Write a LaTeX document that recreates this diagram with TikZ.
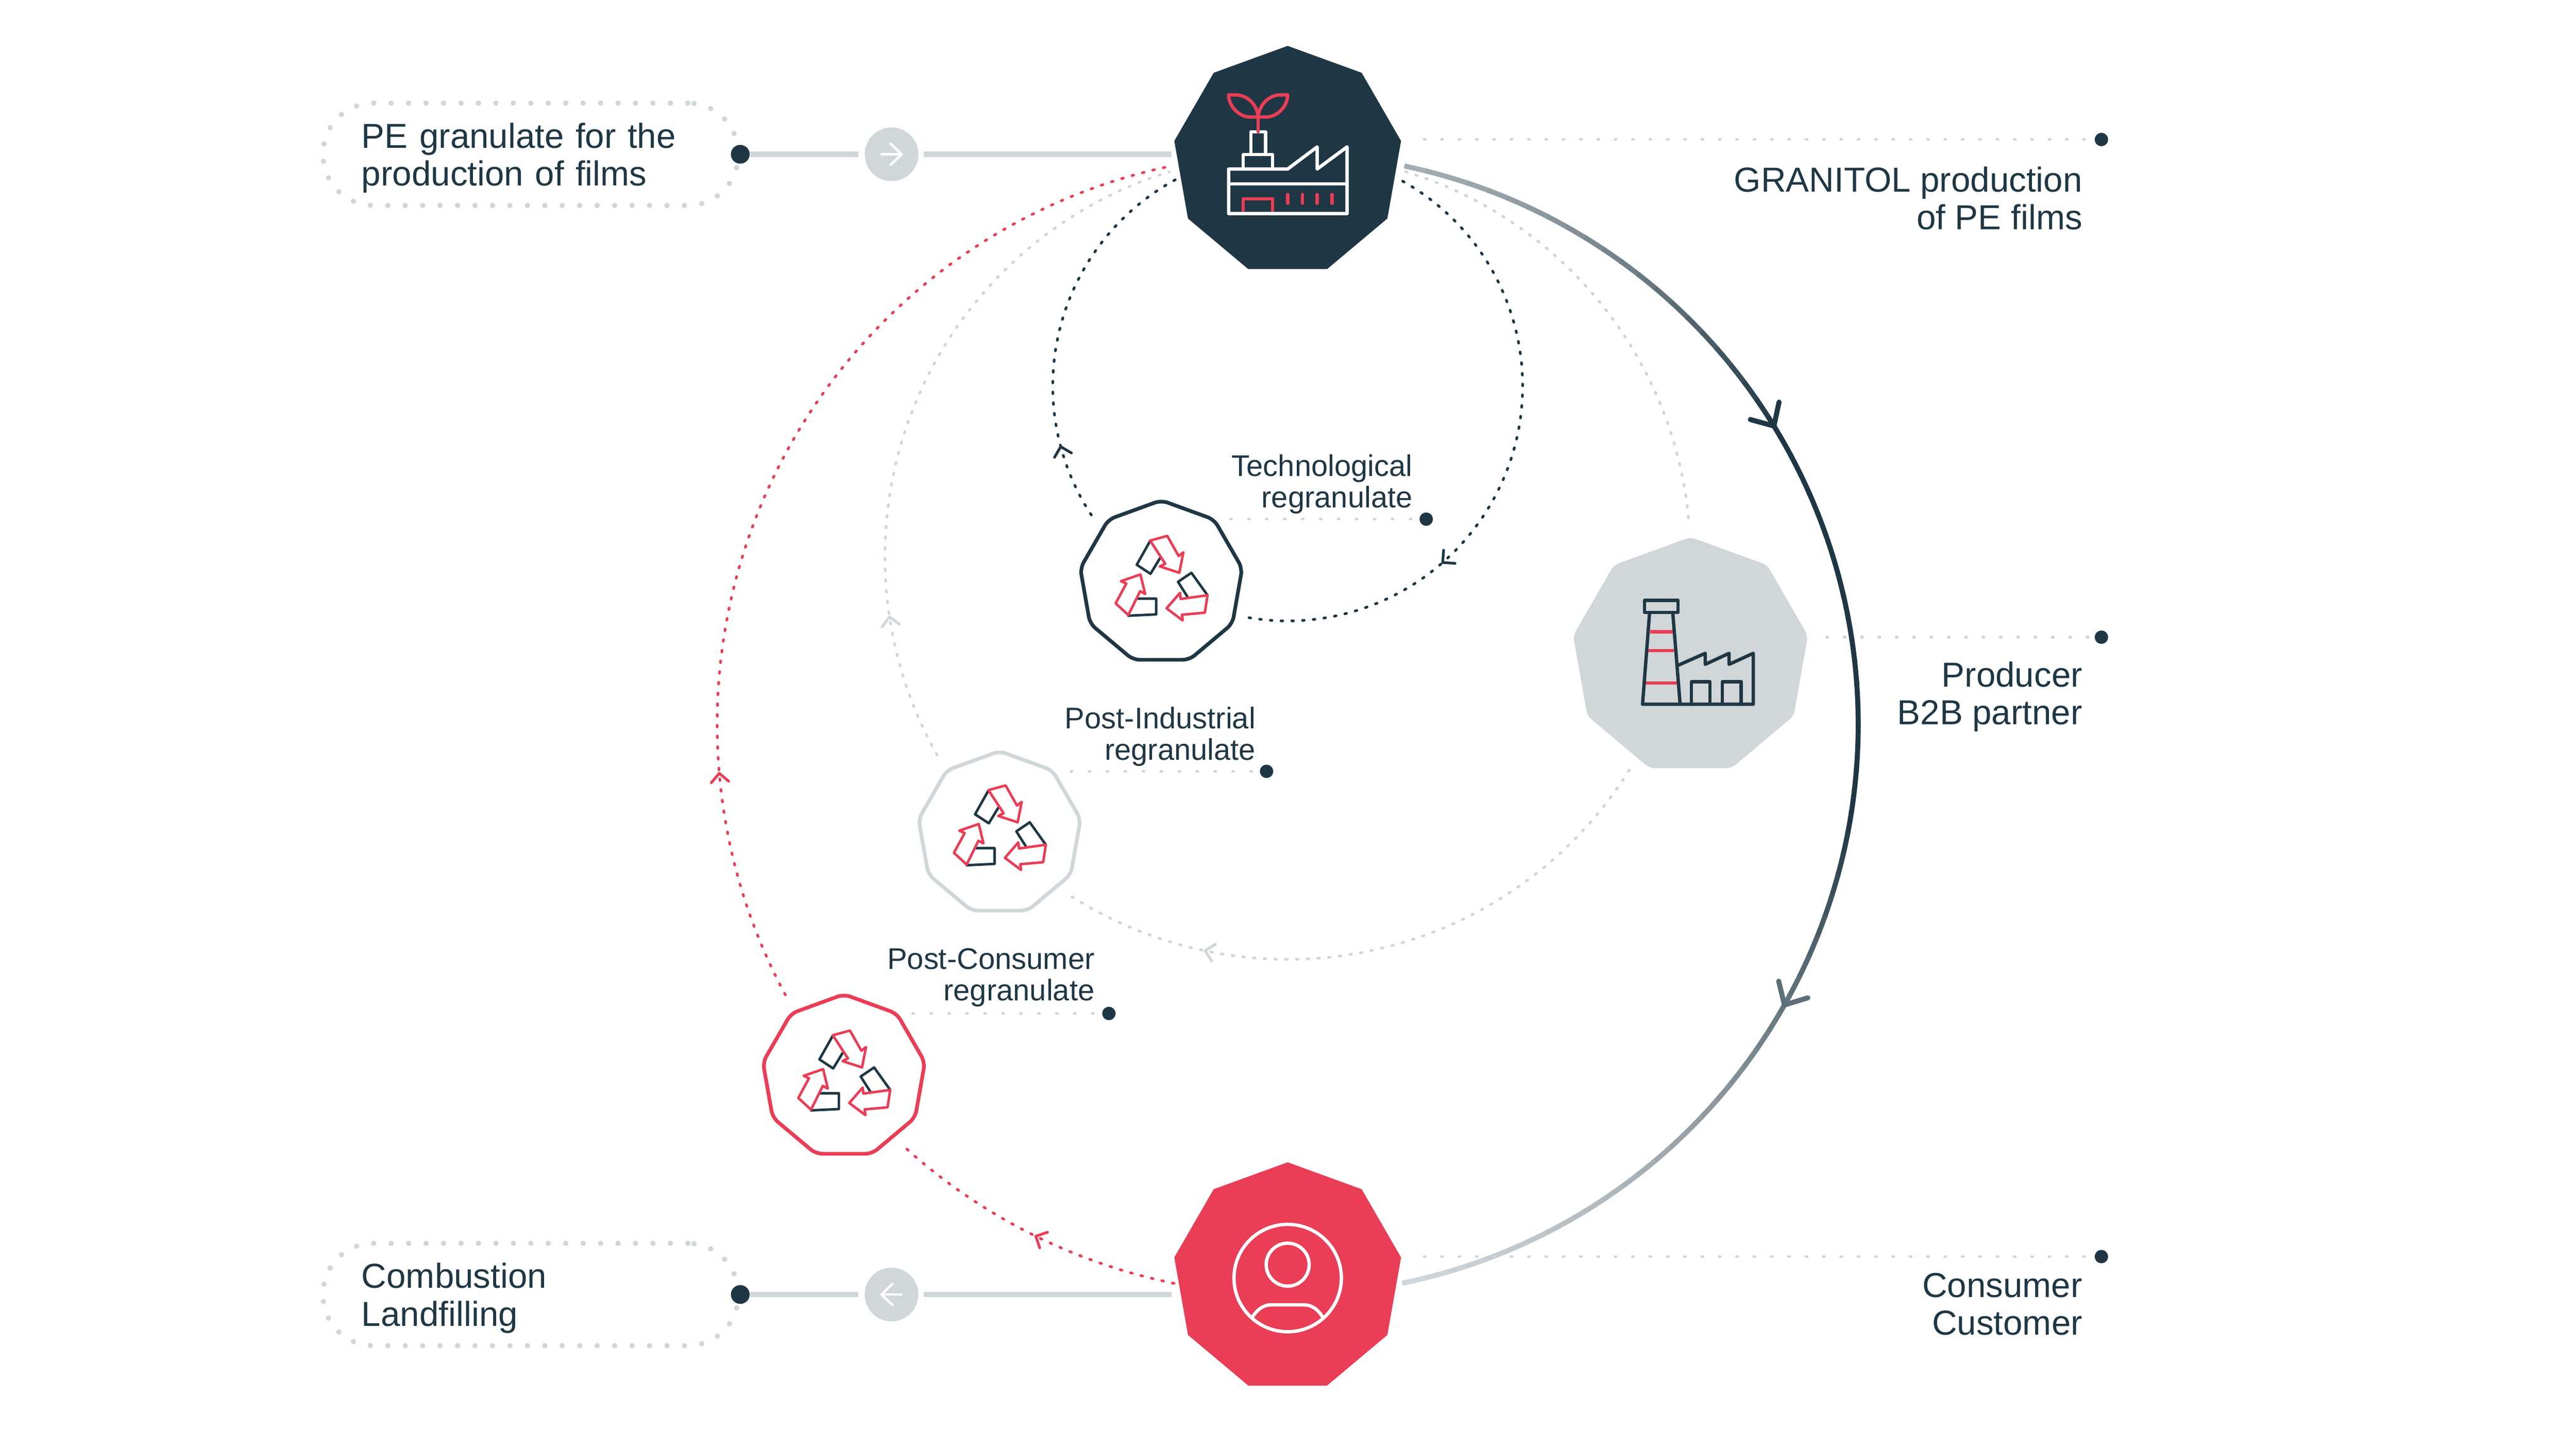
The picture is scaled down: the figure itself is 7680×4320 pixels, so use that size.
\documentclass[tikz,border=0pt]{standalone}
\usepackage{fontspec}
\setmainfont{Liberation Sans}
\usetikzlibrary{positioning,shapes,calc}
\usetikzlibrary{arrows.meta}
\usetikzlibrary{decorations.markings}
\definecolor{inkdark}{HTML}{1F3744}
\definecolor{inkred}{HTML}{EA3D56}
\definecolor{inkgrey}{HTML}{D1D6D9}
\newcommand{\biglabel}{\fontsize{29.4}{32.1}\selectfont}
\newcommand{\smalllabel}{\fontsize{25.3}{26.5}\selectfont}
\tikzset{
  nona/.style={regular polygon, regular polygon sides=9, inner sep=0pt, outer sep=0pt},
  hubnode/.style={nona, minimum size=#1},
  ringnode/.style={nona, draw=#1, fill=white, line width=0.11cm, rounded corners=0.2cm, minimum size=4.9cm},
  pindot/.style={circle, fill=inkdark, inner sep=0pt, minimum size=0.4cm},
  pillbox/.style={draw=inkgrey, rounded corners=1.5cm, line width=0.16cm, line cap=round,
    dash pattern=on 0pt off 0.52cm, minimum width=12.37cm, minimum height=3.05cm,
    text width=10.07cm, align=left, inner xsep=1.15cm, inner ysep=0pt, text=inkdark, font=\biglabel,
    execute at begin node={\rule{0pt}{27.5pt}}},
  rightlabel/.style={inner sep=0pt, align=right, text=inkdark, font=#1},
  leader/.style={draw=inkgrey, line width=0.08cm, line cap=round, dash pattern=on 0.035cm off 0.482cm},
  dotarc/.style={draw=#1, line width=0.08cm, line cap=round, dash pattern=on 0.05cm off 0.27cm},
  feedline/.style={draw=inkgrey, line width=0.16cm, shorten >=0.18cm},
  wayarrow/.style={draw=white, line width=0.07cm, line cap=round,
    -{Straight Barb[length=0.34cm,width=0.64cm,round]}},
  smalltip/.style 2 args={postaction={decorate},decoration={markings,
    mark=at position #1 with {\arrow[#2]{Straight Barb[length=0.26cm,width=0.52cm,round,line width=0.08cm]}}}},
  bigtip/.style 2 args={postaction={decorate},decoration={markings,
    mark=at position #1 with {\arrow[#2]{Straight Barb[length=0.53cm,width=1cm,round,line width=0.15cm]}}}},
  iconline/.style={draw=#1, line width=0.1cm, line join=round, line cap=round},
  recycle/.pic={
    \draw[iconline=inkdark, line width=0.075cm] (-4,-72) -- (-32,-26) -- (-73,-53) -- (-33,-124);
    \draw[iconline=inkdark, line width=0.075cm] (78,42) -- (50,-2) -- (90,-29) -- (138,38);
    \draw[iconline=inkdark, line width=0.075cm] (-71,48) -- (-15,48) -- (-15,95) -- (-98,99);
    \draw[iconline=inkred, line width=0.075cm] (-33,-125) -- (18,-139) -- (52,-79) -- (66,-90) -- (54,-29) -- (-4,-48) -- (12,-56) -- cycle;
    \draw[iconline=inkred, line width=0.075cm] (138,38) -- (58,49) -- (56,31) -- (16,77) -- (64,113) -- (62,96) -- (130,90) -- cycle;
    \draw[iconline=inkred, line width=0.075cm] (-98,97) -- (-136,62) -- (-104,3) -- (-120,-4) -- (-62,-24) -- (-48,34) -- (-63,26) -- cycle;
  }
}
\begin{document}
\begin{tikzpicture}[x=0.01cm, y=-0.01cm]
  \useasboundingbox (0,0) rectangle (7680,4320);

  % circle centres
  \coordinate (loopc) at (3839,1151);
  \coordinate (midc) at (3839,1660);
  \coordinate (bigc) at (3839,2160);

  % dotted return loops
  \draw[dotarc=inkdark, smalltip={0.685}{inkdark}] ($(loopc)+(60.7:7cm)$) arc[start angle=60.7, end angle=-99.5, radius=7cm];
  \draw[dotarc=inkdark, smalltip={0.197}{inkdark}] ($(loopc)+(213.3:7cm)$) arc[start angle=213.3, end angle=118.6, radius=7cm];
  \draw[dotarc=inkgrey] ($(midc)+(73:12cm)$) arc[start angle=73, end angle=4.6, radius=12cm];
  \draw[dotarc=inkgrey, smalltip={0.772}{inkgrey}] ($(midc)+(-32:12cm)$) arc[start angle=-32, end angle=-122.7, radius=12cm];
  \draw[dotarc=inkgrey, smalltip={0.206}{inkgrey}] ($(midc)+(209.5:12cm)$) arc[start angle=209.5, end angle=107.1, radius=12cm];
  \draw[dotarc=inkred, smalltip={0.48}{inkred}] ($(bigc)+(258.5:17cm)$) arc[start angle=258.5, end angle=227.6, radius=17cm];
  \draw[dotarc=inkred, smalltip={0.221}{inkred}] ($(bigc)+(208.3:17cm)$) arc[start angle=208.3, end angle=101.9, radius=17cm];

  % main loop, colour fades with height
  \foreach \i in {0,...,71} {
    \pgfmathsetmacro{\a}{78.2-\i*2.172}
    \pgfmathsetmacro{\yy}{2160-1700*sin(\a-1.1)}
    \pgfmathsetmacro{\p}{\yy<1250 ? 25+0.0993*(\yy-495) : (\yy>2450 ? max(0,0.0725*(3830-\yy)) : 100)}
    \draw[draw=inkdark!\p!inkgrey, line width=0.15cm] ($(bigc)+(\a:17cm)$) arc[start angle=\a, delta angle=-2.4, radius=17cm];
  }
  \path[bigtip={0.3}{inkdark}] ($(bigc)+(78.2:17cm)$) arc[start angle=78.2, end angle=-78.2, radius=17cm];
  \path[bigtip={0.69}{inkdark!65!inkgrey}] ($(bigc)+(78.2:17cm)$) arc[start angle=78.2, end angle=-78.2, radius=17cm];

  % stations
  \node[hubnode=6.86cm, fill=inkdark] (plant) at (3839,480) {};
  \node[hubnode=7.1cm, fill=inkgrey, rounded corners=0.15cm] (partner) at (5040,1957) {};
  \node[hubnode=6.86cm, fill=inkred] (customer) at (3839,3809) {};
  \node[ringnode=inkdark] (techre) at (3462,1737) {};
  \node[ringnode=inkgrey] (indre) at (2980,2485) {};
  \node[ringnode=inkred] (conre) at (2516,3210) {};
  \path (techre) pic {recycle};
  \path ($(indre)+(0,-4)$) pic {recycle};
  \path ($(conre)+(0,2)$) pic {recycle};

  % plant icon
  \begin{scope}[shift={(plant)}]
    \draw[iconline=white] (-176,157) -- (-176,24) -- (0,24) -- (88,-42) -- (88,24) -- (177,-42) -- (177,157) -- cycle;
    \draw[iconline=white] (-176,68) -- (177,68);
    \draw[iconline=white] (-133,24) -- (-133,-19) -- (-45,-19) -- (-45,24);
    \draw[iconline=white] (-110,-19) -- (-110,-87) -- (-66,-87) -- (-66,-19);
    \draw[iconline=inkred] (-88,-131) -- (-88,-87);
    \draw[iconline=inkred] (-176,-197) -- (-155,-197) .. controls (-118,-197) and (-90,-165) .. (-88,-131) -- (-111,-131) .. controls (-147,-131) and (-176,-165) .. cycle;
    \draw[iconline=inkred] (0,-197) -- (-21,-197) .. controls (-58,-197) and (-86,-165) .. (-88,-131) -- (-65,-131) .. controls (-29,-131) and (0,-165) .. cycle;
    \draw[iconline=inkred, line cap=butt] (-133,152) -- (-133,113) -- (-45,113) -- (-45,152);
    \foreach \x in {0,44,88,132}
      \draw[iconline=inkred] (\x,100) -- (\x,126);
  \end{scope}

  % partner icon
  \begin{scope}[shift={(partner)}]
    \draw[inkred, line width=0.1cm] (-121,-73) -- (-53,-73) (-126,-17) -- (-49,-17) (-134,80) -- (-40,80);
    \draw[iconline=inkdark] (-137,-167) rectangle (-37,-131);
    \draw[iconline=inkdark] (-122,-131) -- (-143,143) -- (187,143) -- (187,-9) -- (115,24) -- (115,-9) -- (44,24) -- (44,-9) -- (-35,26);
    \draw[iconline=inkdark] (-53,-131) -- (-31,143);
    \draw[iconline=inkdark] (3,143) -- (3,76) -- (58,76) -- (58,143);
    \draw[iconline=inkdark] (95,143) -- (95,76) -- (151,76) -- (151,143);
  \end{scope}

  % customer icon
  \begin{scope}[shift={(customer)}]
    \draw[iconline=white] (0,2) circle (1.6cm);
    \draw[iconline=white] (0,-38) circle (0.64cm);
    \draw[iconline=white] (-105,118) .. controls (-90,95) and (-72,82) .. (-50,82) -- (49,82) .. controls (72,82) and (90,95) .. (104,118);
  \end{scope}

  % inlet and outlet
  \node[pillbox] (infeed) at (1582,460) {PE granulate for the\\production of films};
  \node[pillbox] (outfeed) at (1582,3860) {Combustion\\Landfilling};
  \node[pindot, minimum size=0.56cm] (indot) at (2207,460) {};
  \node[pindot, minimum size=0.56cm] (outdot) at (2207,3860) {};
  \node[circle, fill=inkgrey, inner sep=0pt, minimum size=1.6cm] (invalve) at (2658,460) {};
  \node[circle, fill=inkgrey, inner sep=0pt, minimum size=1.6cm] (outvalve) at (2658,3860) {};
  \draw[feedline] (indot) -- (invalve);
  \draw[feedline, shorten <=0.15cm] (invalve) -- (invalve -| plant.west);
  \draw[feedline] (outdot) -- (outvalve);
  \draw[feedline, shorten <=0.15cm] (outvalve) -- (outvalve -| customer.west);
  \draw[wayarrow] ($(invalve)+(-30,0)$) -- ($(invalve)+(34,0)$);
  \draw[wayarrow] ($(outvalve)+(30,0)$) -- ($(outvalve)+(-34,0)$);

  % right column
  \node[pindot] (plantpin) at (6265,416) {};
  \node[pindot] (partnerpin) at (6265,1900) {};
  \node[pindot] (customerpin) at (6265,3747) {};
  \coordinate (plantlead) at (4246,416);
  \coordinate (partnerlead) at (5446,1900);
  \coordinate (customerlead) at (4246,3747);
  \draw[leader] (plantlead) -- (plantpin);
  \draw[leader] (partnerlead) -- (partnerpin);
  \draw[leader] (customerlead) -- (customerpin);
  \node[below left=0.8cm and 0.56cm of plantpin.center, rightlabel=\biglabel] {GRANITOL production\\of PE films};
  \node[below left=0.72cm and 0.56cm of partnerpin.center, rightlabel=\biglabel] {Producer\\B2B partner};
  \node[below left=0.48cm and 0.56cm of customerpin.center, rightlabel=\biglabel] {Consumer\\Customer};

  % regranulate labels
  \node[pindot] (techpin) at (4252,1548) {};
  \node[pindot] (indpin) at (3776,2300) {};
  \node[pindot] (conpin) at (3306,3022) {};
  \coordinate (techlead) at (3668,1548);
  \coordinate (indlead) at (3193,2300);
  \coordinate (conlead) at (2721,3022);
  \draw[leader, dash pattern=on 0.035cm off 0.5cm] (techlead) -- (techpin);
  \draw[leader, dash pattern=on 0.035cm off 0.5cm] (indlead) -- (indpin);
  \draw[leader, dash pattern=on 0.035cm off 0.5cm] (conlead) -- (conpin);
  \node[above left=0.15cm and 0.4cm of techpin.center, rightlabel=\smalllabel] {Technological\\regranulate};
  \node[above left=0.15cm and 0.32cm of indpin.center, rightlabel=\smalllabel] {Post-Industrial\\regranulate};
  \node[above left=0.19cm and 0.42cm of conpin.center, rightlabel=\smalllabel] {Post-Consumer\\regranulate};
\end{tikzpicture}
\end{document}
